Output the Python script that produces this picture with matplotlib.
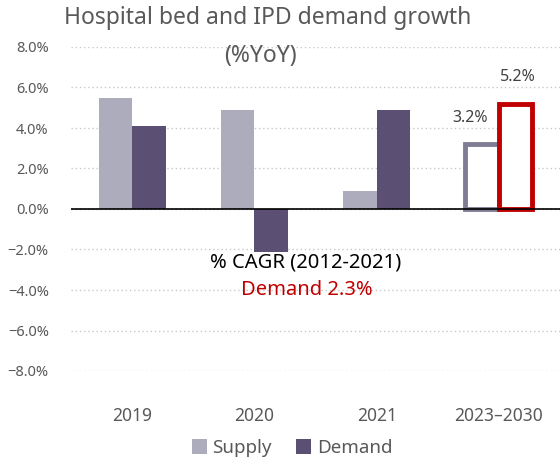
import matplotlib
matplotlib.use("Agg")
import matplotlib.pyplot as plt
import numpy as np
from matplotlib.patches import Patch

# chart data
categories = ["2019", "2020", "2021", "2023\u20132030"]
supply = [5.5, 4.9, 0.9, 3.2]
demand = [4.1, -2.1, 4.9, 5.2]
yticks = [-8, -6, -4, -2, 0, 2, 4, 6, 8]

plt.rcParams['font.family'] = ['Noto Sans', 'DejaVu Sans']

grey_txt = '#595959'
c_supply = '#acacbc'
c_demand = '#5b4f73'
c_supply_out = '#7f7d94'
c_red = '#c00000'

fig = plt.figure(figsize=(5.6, 4.62), dpi=100)
ax = fig.add_axes([71 / 560, 1 - 371 / 462, 489 / 560, 324 / 462])

x = np.arange(len(categories))
w = 0.275

# solid bars for historical years
ax.bar(x[:3] - w / 2, supply[:3], w, color=c_supply, zorder=2)
ax.bar(x[:3] + w / 2, demand[:3], w, color=c_demand, zorder=2)

# outlined bars for forecast
ax.bar(x[3] - w / 2, supply[3], w, facecolor='white', edgecolor=c_supply_out, linewidth=3.5, zorder=2)
ax.bar(x[3] + w / 2, demand[3], w, facecolor='white', edgecolor=c_red, linewidth=3.5, zorder=3)
ax.text(x[3] - w / 2 - 0.1, supply[3] + 0.9, f"{supply[3]:.1f}%", ha='center', va='bottom', fontsize=11.5, color='#404040')
ax.text(x[3] + w / 2 + 0.02, demand[3] + 0.9, f"{demand[3]:.1f}%", ha='center', va='bottom', fontsize=11.5, color='#404040')

ax.axhline(0, color='black', linewidth=1.2, zorder=4)

ax.set_ylim(-8, 8)
ax.set_xlim(-0.5, 3.5)
ax.set_yticks(yticks)
ax.set_yticklabels([f"{v:.1f}%".replace('-', '\u2212') for v in yticks], color=grey_txt, fontsize=10.5)
ax.yaxis.grid(True, linestyle=(0, (1, 2)), color='#c8c8c8', linewidth=1, zorder=0)
ax.set_xticks(x)
ax.set_xticklabels(categories, color=grey_txt, fontsize=12.5)
ax.tick_params(axis='both', length=0)
ax.tick_params(axis='x', pad=26)
ax.tick_params(axis='y', pad=16)
for s in ax.spines.values():
    s.set_visible(False)

# CAGR annotation
ax.text(1.42, -2.65, "% CAGR (2012-2021)", ha='center', va='center', fontsize=14.5, color='black', zorder=5)
ax.text(1.43, -4.0, "Demand 2.3%", ha='center', va='center', fontsize=14.5, color=c_red, zorder=5)

# title
fig.text(268 / 560, 1 - 18 / 462, "Hospital bed and IPD demand growth", ha='center', va='center', fontsize=16.5, color=grey_txt)
fig.text(260 / 560, 1 - 56 / 462, "(%YoY)", ha='center', va='center', fontsize=16.5, color=grey_txt)

handles = [Patch(facecolor=c_supply, label='Supply'), Patch(facecolor=c_demand, label='Demand')]
leg = fig.legend(handles=handles, loc='center', bbox_to_anchor=(292 / 560, 1 - 448 / 462), ncol=2, frameon=False,
                 fontsize=13.5, handlelength=0.8, handleheight=0.8, handletextpad=0.3, columnspacing=1.3)
for t in leg.get_texts():
    t.set_color(grey_txt)

fig.savefig("out.png", dpi=100)
